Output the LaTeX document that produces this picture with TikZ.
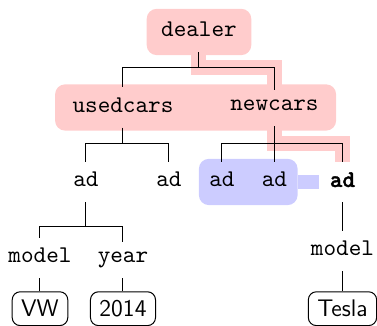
\documentclass[tikz,border=0pt]{standalone}
\usepackage{fontspec}
\setmonofont{lmmono10-regular}[Extension=.otf, BoldFont=lmmonolt10-bold, BoldFeatures={FakeBold=1.5}]
\usetikzlibrary{fit,backgrounds}

\tikzset{
  lbl/.style={font=\ttfamily\fontsize{12}{14}\selectfont, inner sep=5pt, text depth=2.3pt, anchor=base},
  leafbox/.style={draw, rounded corners=4pt, font=\sffamily\fontsize{12}{14}\selectfont,
    inner xsep=4.5pt, inner ysep=4.3pt, text height=8.3pt, text depth=0pt, anchor=base},
  pinkbox/.style={fill=red!20, rounded corners=5pt, inner sep=0pt},
  pinkpath/.style={draw=red!20, line width=7.5pt, line join=miter},
  bluebox/.style={fill=blue!20, rounded corners=5pt, inner sep=0pt},
  bluepath/.style={draw=blue!20, line width=7pt},
}

\begin{document}
\begin{tikzpicture}[x=0.5pt, y=-0.5pt, line width=0.5pt]
    \useasboundingbox (0,0) rectangle (377,326);

    % nodes, placed at their baselines
    \node[lbl] (dealer) at (199,37) {dealer};
    \node[lbl] (usedcars) at (123,112.5) {usedcars};
    \node[lbl] (newcars) at (274.5,111) {newcars};
    \node[lbl] (ad1) at (86,187) {ad};
    \node[lbl] (ad2) at (169,187) {ad};
    \node[lbl] (ad3) at (222,187) {ad};
    \node[lbl] (ad4) at (274.5,187) {ad};
    \node[lbl, font=\ttfamily\bfseries\fontsize{12}{14}\selectfont] (ad5) at (342.5,187) {ad};
    \node[lbl] (model1) at (40,263) {model};
    \node[lbl] (year) at (123,263) {year};
    \node[lbl] (model2) at (342.5,256) {model};
    \node[leafbox] (vw) at (40,317) {VW};
    \node[leafbox] (y2014) at (123,317) {2014};
    \node[leafbox] (tesla) at (342.5,317) {Tesla};

    % edges
    \draw (dealer.south) -- ++(0,15.5) coordinate (fdealer) -| (usedcars.north) (fdealer) -| (newcars.north);
    \draw (usedcars.south) -- ++(0,16) coordinate (fused) -| (ad1.north) (fused) -| (ad2.north);
    \draw (newcars.south) -- ++(0,17.5) coordinate (fnew) -| (ad3.north) (fnew) -| (ad4.north) (fnew) -| (ad5.north);
    \draw (ad1.south) -- ++(0,24.4) coordinate (fad) -| (model1.north) (fad) -| (year.north);
    \draw (ad5) -- (model2);
    \draw (model1) -- (vw);
    \draw (year) -- (y2014);
    \draw (model2) -- (tesla);

    % highlights
    \begin{scope}[on background layer]
        \node[pinkbox, fit=(dealer), inner xsep=2pt, inner ysep=1.5pt] (hldealer) {};
        \node[pinkbox, fit=(usedcars)(newcars), inner xsep=3.5pt, inner ysep=1.5pt] (hlcars) {};
        \draw[pinkpath] (dealer.south) -- (fdealer) -| (newcars.north);
        \draw[pinkpath] (newcars.south) -- (fnew) -| (ad5.north);
        \node[bluebox, fit=(ad3)(ad4), inner ysep=1.5pt] (hlads) {};
        \draw[bluepath] (hlads.east) -- (hlads.east -| ad5.west);
    \end{scope}
\end{tikzpicture}
\end{document}
